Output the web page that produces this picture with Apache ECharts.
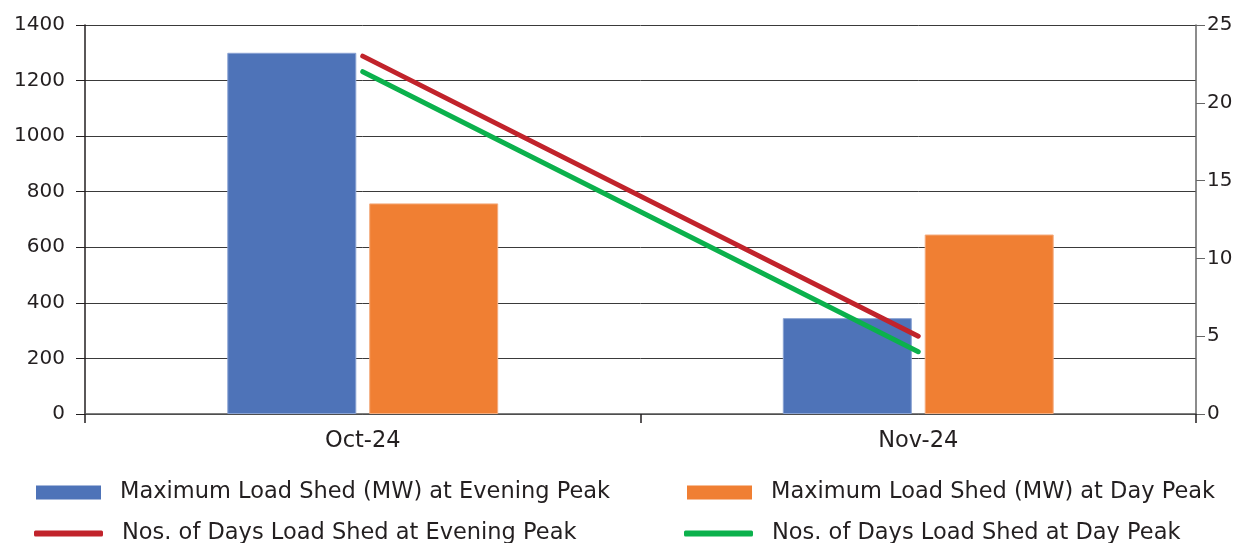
<!DOCTYPE html>
<html>
<head>
<meta charset="utf-8">
<script src="https://cdn.jsdelivr.net/npm/echarts@6/dist/echarts.min.js"></script>
<style>
html,body{margin:0;padding:0;background:#fff;}
#chart{width:1247px;height:543px;}
</style>
</head>
<body>
<div id="chart"></div>
<script>
var categories = ['Oct-24', 'Nov-24'];
var eveningPeakMW = [1300, 345];
var dayPeakMW = [758, 646];
var eveningPeakDays = [23, 5];
var dayPeakDays = [22, 4];
var leftTicks = [0, 1400, 200];
var rightTicks = [0, 25, 5];

var seriesNames = [
  'Maximum Load Shed (MW) at Evening Peak',
  'Maximum Load Shed (MW) at Day Peak',
  'Nos. of Days Load Shed at Evening Peak',
  'Nos. of Days Load Shed at Day Peak'
];
var colors = ['#4e73b8', '#f07f33', '#c1232b', '#0bb14c'];
var FONT = 'DejaVu Sans';
var TXT = '#231f20';

function legendItem(i, left, top, icon, w, h) {
  return {
    data: [{name: seriesNames[i], icon: icon}],
    left: left, top: top,
    itemWidth: w, itemHeight: h,
    padding: 0,
    itemStyle: {borderWidth: 0},
    textStyle: {fontFamily: FONT, fontSize: 22.5, color: TXT, padding: [0, 0, 0, 14]},
    selectedMode: false
  };
}

var chart = echarts.init(document.getElementById('chart'));
chart.setOption({
  animation: false,
  textStyle: {fontFamily: FONT},
  grid: {left: 85, right: 51, top: 25, bottom: 129},
  legend: [
    legendItem(0, 36, 481, 'rect', 65, 14),
    legendItem(1, 687, 481, 'rect', 65, 14),
    legendItem(2, 34, 522, 'roundRect', 69, 6),
    legendItem(3, 684, 522, 'roundRect', 69, 6)
  ],
  xAxis: {
    type: 'category',
    data: categories,
    axisLine: {lineStyle: {color: '#555', width: 1.5}},
    axisTick: {show: true, length: 9, lineStyle: {color: '#231f20', width: 1.5}},
    axisLabel: {fontFamily: FONT, fontSize: 22.5, color: TXT, margin: 16}
  },
  yAxis: [
    {
      type: 'value', min: leftTicks[0], max: leftTicks[1], interval: leftTicks[2],
      axisLine: {show: true, lineStyle: {color: '#231f20', width: 1.5}},
      axisTick: {show: true, length: 9, lineStyle: {color: '#231f20'}},
      axisLabel: {fontFamily: FONT, fontSize: 20, color: TXT, margin: 20,
        formatter: function (v) { return String(v); }},
      splitLine: {show: true, lineStyle: {color: '#3a3a3a', width: 1}}
    },
    {
      type: 'value', min: rightTicks[0], max: rightTicks[1], interval: rightTicks[2],
      position: 'right',
      axisLine: {show: true, lineStyle: {color: '#666', width: 1.5}},
      axisTick: {show: true, length: 9, lineStyle: {color: '#666'}},
      axisLabel: {fontFamily: FONT, fontSize: 20, color: TXT, margin: 11,
        formatter: function (v) { return String(v); }},
      splitLine: {show: false}
    }
  ],
  series: [
    {
      name: seriesNames[0], type: 'bar', data: eveningPeakMW,
      barWidth: 129, barGap: '10%',
      itemStyle: {color: colors[0], borderColor: '#8aa3d3', borderWidth: 1}
    },
    {
      name: seriesNames[1], type: 'bar', data: dayPeakMW,
      barWidth: 129, barGap: '10%',
      itemStyle: {color: colors[1], borderColor: '#f4ad80', borderWidth: 1}
    },
    {
      name: seriesNames[2], type: 'line', yAxisIndex: 1, data: eveningPeakDays,
      showSymbol: false, symbol: 'none',
      lineStyle: {color: colors[2], width: 5, cap: 'round'},
      itemStyle: {color: colors[2]}
    },
    {
      name: seriesNames[3], type: 'line', yAxisIndex: 1, data: dayPeakDays,
      showSymbol: false, symbol: 'none',
      lineStyle: {color: colors[3], width: 5, cap: 'round'},
      itemStyle: {color: colors[3]}
    }
  ]
});
</script>
</body>
</html>
